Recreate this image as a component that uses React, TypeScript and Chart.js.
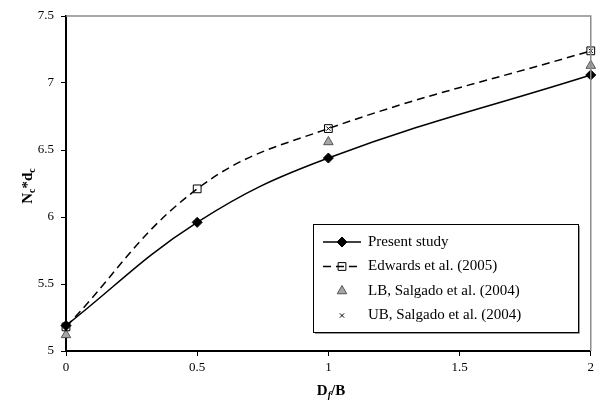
import React, { useEffect, useRef } from "react";
import { Chart, registerables } from "chart.js";
import { drawPoint } from "chart.js/helpers";

Chart.register(...registerables);

const xValues = [0, 0.5, 1, 2];
const presentStudy = [5.19, 5.96, 6.44, 7.06];
const edwards = [5.18, 6.21, 6.66, 7.24];
const lbX = [0, 1, 2];
const lbSalgado = [5.12, 6.56, 7.13];
const ubX = [0, 1, 2];
const ubSalgado = [5.18, 6.66, 7.24];
const seriesLabels = [
  "Present study",
  "Edwards et al. (2005)",
  "LB, Salgado et al. (2004)",
  "UB, Salgado et al. (2004)",
];
const xMin = 0;
const xMax = 2;
const yMin = 5;
const yMax = 7.5;
const tickStep = 0.5;

const FONT = "'Liberation Serif', 'Times New Roman', serif";

const legendStyles = [
  { line: true, dash: [] as number[], style: "rectRot", radius: 5, fill: "#000", stroke: "#000" },
  { line: true, dash: [8, 5], style: "rect", radius: 5.5, fill: "rgba(0,0,0,0)", stroke: "#000" },
  { line: false, dash: [] as number[], style: "triangle", radius: 5.5, fill: "#a6a6a6", stroke: "#555" },
  { line: false, dash: [] as number[], style: "crossRot", radius: 3, fill: "#000", stroke: "#000" },
];

const decorPlugin = {
  id: "decor",
  afterDraw(chart: any) {
    const { ctx, chartArea } = chart;
    const { left, right, top, bottom } = chartArea;
    ctx.save();
    // top & right plot border
    ctx.strokeStyle = "#8c8c8c";
    ctx.lineWidth = 1.5;
    ctx.beginPath();
    ctx.moveTo(left, top);
    ctx.lineTo(right, top);
    ctx.lineTo(right, bottom);
    ctx.stroke();

    // legend
    const lx = 313, ly = 224, lw = 265, lh = 108;
    ctx.fillStyle = "#fff";
    ctx.fillRect(lx, ly, lw, lh);
    ctx.strokeStyle = "#000";
    ctx.lineWidth = 1;
    ctx.strokeRect(lx + 0.5, ly + 0.5, lw, lh);
    ctx.strokeStyle = "#999";
    ctx.beginPath();
    ctx.moveTo(lx + lw + 1.5, ly + 2);
    ctx.lineTo(lx + lw + 1.5, ly + lh + 1.5);
    ctx.lineTo(lx + 2, ly + lh + 1.5);
    ctx.stroke();

    ctx.font = `15px ${FONT}`;
    ctx.textBaseline = "middle";
    ctx.textAlign = "left";
    seriesLabels.forEach((label, i) => {
      const s = legendStyles[i];
      const cy = ly + 18 + i * 24.5;
      const x0 = 323, x1 = 361, mx = 342;
      if (s.line) {
        ctx.strokeStyle = "#000";
        ctx.lineWidth = 1.5;
        ctx.setLineDash(s.dash);
        ctx.beginPath();
        ctx.moveTo(x0, cy);
        ctx.lineTo(x1, cy);
        ctx.stroke();
        ctx.setLineDash([]);
      }
      ctx.fillStyle = s.fill;
      ctx.strokeStyle = s.stroke;
      ctx.lineWidth = 1;
      drawPoint(ctx, { pointStyle: s.style as any, radius: s.radius, borderWidth: 1, rotation: 0 } as any, mx, cy);
      ctx.fillStyle = "#000";
      ctx.fillText(label, 368, cy);
    });

    // axis titles
    ctx.fillStyle = "#000";
    const big = `bold 15px ${FONT}`;
    const small = `bold 10px ${FONT}`;
    const smallIt = `italic bold 10px ${FONT}`;
    const drawParts = (parts: { t: string; f: string; dy: number }[], cx: number, cy: number, rot: number) => {
      ctx.save();
      ctx.translate(cx, cy);
      ctx.rotate(rot);
      let total = 0;
      parts.forEach((p) => {
        ctx.font = p.f;
        total += ctx.measureText(p.t).width;
      });
      let x = -total / 2;
      ctx.textAlign = "left";
      ctx.textBaseline = "alphabetic";
      parts.forEach((p) => {
        ctx.font = p.f;
        ctx.fillText(p.t, x, p.dy);
        x += ctx.measureText(p.t).width;
      });
      ctx.restore();
    };
    drawParts(
      [
        { t: "N", f: big, dy: 5 },
        { t: "c", f: small, dy: 8 },
        { t: "*d", f: big, dy: 5 },
        { t: "c", f: small, dy: 8 },
      ],
      27,
      186,
      -Math.PI / 2
    );
    drawParts(
      [
        { t: "D", f: big, dy: 5 },
        { t: "f", f: smallIt, dy: 8 },
        { t: "/B", f: big, dy: 5 },
      ],
      331,
      390,
      0
    );
    ctx.restore();
  },
};

export default function App() {
  const ref = useRef<HTMLCanvasElement | null>(null);
  useEffect(() => {
    document.body.style.margin = "0";
    const canvas = ref.current!;
    const chart = new Chart(canvas, {
      type: "scatter",
      data: {
        datasets: [
          {
            label: seriesLabels[0],
            data: xValues.map((x, i) => ({ x, y: presentStudy[i] })),
            showLine: true,
            clip: false,
            borderColor: "#000",
            borderWidth: 1.5,
            tension: 0.4,
            pointStyle: "rectRot",
            pointRadius: 5,
            pointBackgroundColor: "#000",
            pointBorderColor: "#000",
            pointBorderWidth: 1,
          },
          {
            label: seriesLabels[1],
            data: xValues.map((x, i) => ({ x, y: edwards[i] })),
            showLine: true,
            clip: false,
            borderColor: "#000",
            borderWidth: 1.5,
            borderDash: [8, 5],
            tension: 0.4,
            pointStyle: "rect",
            pointRadius: 5.5,
            pointBackgroundColor: "rgba(0,0,0,0)",
            pointBorderColor: "#000",
            pointBorderWidth: 1,
          },
          {
            label: seriesLabels[2],
            data: lbX.map((x, i) => ({ x, y: lbSalgado[i] })),
            showLine: false,
            clip: false,
            pointStyle: "triangle",
            pointRadius: 5.5,
            pointBackgroundColor: "#a6a6a6",
            pointBorderColor: "#555",
            pointBorderWidth: 1,
          },
          {
            label: seriesLabels[3],
            data: ubX.map((x, i) => ({ x, y: ubSalgado[i] })),
            showLine: false,
            clip: false,
            pointStyle: "crossRot",
            pointRadius: 3,
            pointBorderColor: "#000",
            pointBorderWidth: 1,
          },
        ],
      },
      options: {
        animation: false,
        responsive: false,
        maintainAspectRatio: false,
        layout: { padding: { top: 16, right: 6, left: 0, bottom: 0 } },
        plugins: { legend: { display: false }, tooltip: { enabled: false } },
        scales: {
          x: {
            type: "linear",
            min: xMin,
            max: xMax,
            afterFit: (s: any) => {
              s.height = 59;
            },
            ticks: {
              stepSize: tickStep,
              color: "#000",
              font: { family: FONT, size: 13 },
              padding: 4,
              callback: (v: any) => String(v),
            },
            grid: { drawOnChartArea: false, drawTicks: true, tickLength: 5, color: "#000", lineWidth: 1 },
            border: { color: "#000", width: 2 },
          },
          y: {
            type: "linear",
            min: yMin,
            max: yMax,
            afterFit: (s: any) => {
              s.width = 66;
            },
            ticks: {
              stepSize: tickStep,
              color: "#000",
              font: { family: FONT, size: 13 },
              padding: 7,
              callback: (v: any) => String(v),
            },
            grid: { drawOnChartArea: false, drawTicks: true, tickLength: 5, color: "#000", lineWidth: 1 },
            border: { color: "#000", width: 2 },
          },
        },
      },
      plugins: [decorPlugin],
    });
    return () => chart.destroy();
  }, []);
  return <canvas ref={ref} width={598} height={410} style={{ display: "block", width: 598, height: 410 }} />;
}
